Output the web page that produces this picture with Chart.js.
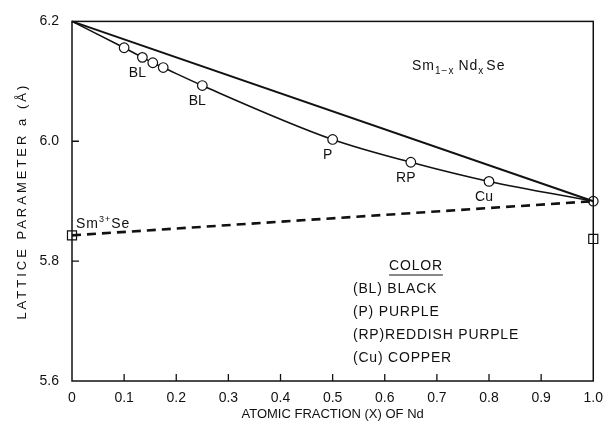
<!DOCTYPE html>
<html>
<head>
<meta charset="utf-8">
<script src="https://cdn.jsdelivr.net/npm/chart.js@4.4.1/dist/chart.umd.min.js"></script>
<style>
  html, body { margin: 0; padding: 0; background: #fff; }
  #wrap { width: 612px; height: 431px; }
</style>
</head>
<body>
<div id="wrap"><canvas id="chart"></canvas></div>
<script>
// measured lattice parameter of Sm(1-x)Nd(x)Se
const ndFraction = [0, 0.1, 0.135, 0.155, 0.175, 0.25, 0.5, 0.65, 0.8, 1.0];
const latticeMeasured = [6.2, 6.156, 6.140, 6.131, 6.123, 6.093, 6.003, 5.965, 5.933, 5.90];
const colorCodes = ['', '', 'BL', '', '', 'BL', 'P', 'RP', 'Cu', ''];

// straight line between SmSe and NdSe
const vegardX = [0, 1.0];
const vegardA = [6.2, 5.90];

// dashed line from Sm3+Se
const sm3X = [0, 1.0];
const sm3A = [5.843, 5.90];

// square markers
const squareX = [0, 1.0];
const squareA = [5.843, 5.837];

const xTicks = [0, 0.1, 0.2, 0.3, 0.4, 0.5, 0.6, 0.7, 0.8, 0.9, 1.0];
const yTicks = [5.6, 5.8, 6.0, 6.2];
const yTitle = 'LATTICE PARAMETER a (Å)';
const legendTitle = 'COLOR';
const legendLines = ['(BL) BLACK', '(P) PURPLE', '(RP)REDDISH PURPLE', '(Cu) COPPER'];

const fontFamily = '"Liberation Sans", Arial, sans-serif';
const ink = '#111';

const toPoints = (xs, ys) => xs.map((x, i) => ({ x, y: ys[i] }));

// frame, inward ticks and text notes
const notesPlugin = {
  id: 'notes',
  afterDatasetsDraw(chart) {
    const { ctx, chartArea: a, scales: { x, y } } = chart;
    ctx.save();
    ctx.strokeStyle = ink;
    ctx.lineWidth = 1.5;
    ctx.strokeRect(a.left, a.top, a.right - a.left, a.bottom - a.top);

    ctx.lineWidth = 1.3;
    ctx.beginPath();
    xTicks.slice(1, -1).forEach(v => {
      const px = x.getPixelForValue(v);
      ctx.moveTo(px, a.bottom);
      ctx.lineTo(px, a.bottom - 7);
    });
    yTicks.slice(1, -1).forEach(v => {
      const py = y.getPixelForValue(v);
      ctx.moveTo(a.left, py);
      ctx.lineTo(a.left + 7, py);
    });
    ctx.stroke();

    ctx.fillStyle = ink;
    ctx.textBaseline = 'middle';
    ctx.textAlign = 'center';
    ctx.font = `14px ${fontFamily}`;
    colorCodes.forEach((c, i) => {
      if (!c) return;
      const px = x.getPixelForValue(ndFraction[i]);
      const py = y.getPixelForValue(latticeMeasured[i]);
      ctx.fillText(c, px - 5, py + 16);
    });

    // y axis title, letter-spaced like the original lettering
    ctx.save();
    ctx.translate(22, (a.top + a.bottom) / 2);
    ctx.rotate(-Math.PI / 2);
    ctx.font = `13px ${fontFamily}`;
    ctx.letterSpacing = '3px';
    ctx.fillText(yTitle, 0, 0);
    ctx.restore();

    ctx.textAlign = 'left';
    ctx.letterSpacing = '1px';
    let cx = 0, cy = 0;
    const part = (t, size, dy) => {
      ctx.font = `${size}px ${fontFamily}`;
      ctx.fillText(t, cx, cy + dy);
      cx += ctx.measureText(t).width;
    };
    // Sm1-x Nd x Se
    cx = 412; cy = 66;
    part('Sm', 14, 0); part('1\u2212x', 10, 5); cx += 4;
    part('Nd', 14, 0); part('x', 10, 5); cx += 2;
    part('Se', 14, 0);

    // Sm3+Se, just above the left square
    cx = a.left + 4; cy = y.getPixelForValue(squareA[0]) - 11;
    part('Sm', 14, 0); part('3+', 9, -5); part('Se', 14, 0);

    // colour key
    ctx.font = `14px ${fontFamily}`;
    ctx.letterSpacing = '0.8px';
    ctx.textAlign = 'center';
    ctx.fillText(legendTitle, 416, 266);
    const tw = ctx.measureText(legendTitle).width;
    ctx.lineWidth = 1;
    ctx.beginPath();
    ctx.moveTo(416 - tw / 2, 275);
    ctx.lineTo(416 + tw / 2, 275);
    ctx.stroke();
    ctx.textAlign = 'left';
    legendLines.forEach((t, i) => ctx.fillText(t, 353, 289 + i * 23));
    ctx.restore();
  }
};

new Chart(document.getElementById('chart'), {
  type: 'scatter',
  data: {
    datasets: [
      {
        data: toPoints(sm3X, sm3A),
        showLine: true,
        borderColor: ink,
        borderWidth: 2.6,
        borderDash: [9, 6],
        pointRadius: 0,
        clip: false
      },
      {
        data: toPoints(vegardX, vegardA),
        showLine: true,
        borderColor: ink,
        borderWidth: 2,
        pointRadius: 0,
        clip: false
      },
      {
        data: toPoints(ndFraction, latticeMeasured),
        showLine: true,
        cubicInterpolationMode: 'monotone',
        borderColor: ink,
        borderWidth: 1.6,
        pointRadius: ndFraction.map((_, i) => (i === 0 ? 0 : 4.8)),
        pointStyle: 'circle',
        pointBackgroundColor: '#fff',
        pointBorderColor: ink,
        pointBorderWidth: 1.2,
        clip: false
      },
      {
        data: toPoints(squareX, squareA),
        showLine: false,
        pointStyle: 'rect',
        pointRadius: 6.4,
        pointBackgroundColor: '#fff',
        pointBorderColor: ink,
        pointBorderWidth: 1.2,
        clip: false
      }
    ]
  },
  options: {
    responsive: true,
    maintainAspectRatio: false,
    animation: false,
    events: [],
    layout: { padding: { top: 15, right: 17, left: 0, bottom: 0 } },
    plugins: { legend: { display: false }, tooltip: { enabled: false } },
    scales: {
      x: {
        type: 'linear',
        min: 0,
        max: 1.0,
        afterBuildTicks: (s) => { s.ticks = xTicks.map(v => ({ value: v })); },
        afterFit: (s) => { s.height = 50; },
        grid: { display: false, drawTicks: false },
        border: { display: false },
        ticks: {
          padding: 9,
          color: ink,
          font: { family: fontFamily, size: 14 },
          callback: (v) => (v === 0 ? '0' : v.toFixed(1))
        },
        title: {
          display: true,
          text: 'ATOMIC FRACTION (X) OF Nd',
          color: ink,
          font: { family: fontFamily, size: 13 },
          padding: { top: 0, bottom: 9 }
        }
      },
      y: {
        type: 'linear',
        min: 5.6,
        max: 6.2,
        afterBuildTicks: (s) => { s.ticks = yTicks.map(v => ({ value: v })); },
        afterFit: (s) => { s.width = 72; },
        grid: { display: false, drawTicks: false },
        border: { display: false },
        ticks: {
          padding: 13,
          color: ink,
          font: { family: fontFamily, size: 14 },
          callback: (v) => v.toFixed(1)
        },
        title: { display: false }
      }
    }
  },
  plugins: [notesPlugin]
});
</script>
</body>
</html>
